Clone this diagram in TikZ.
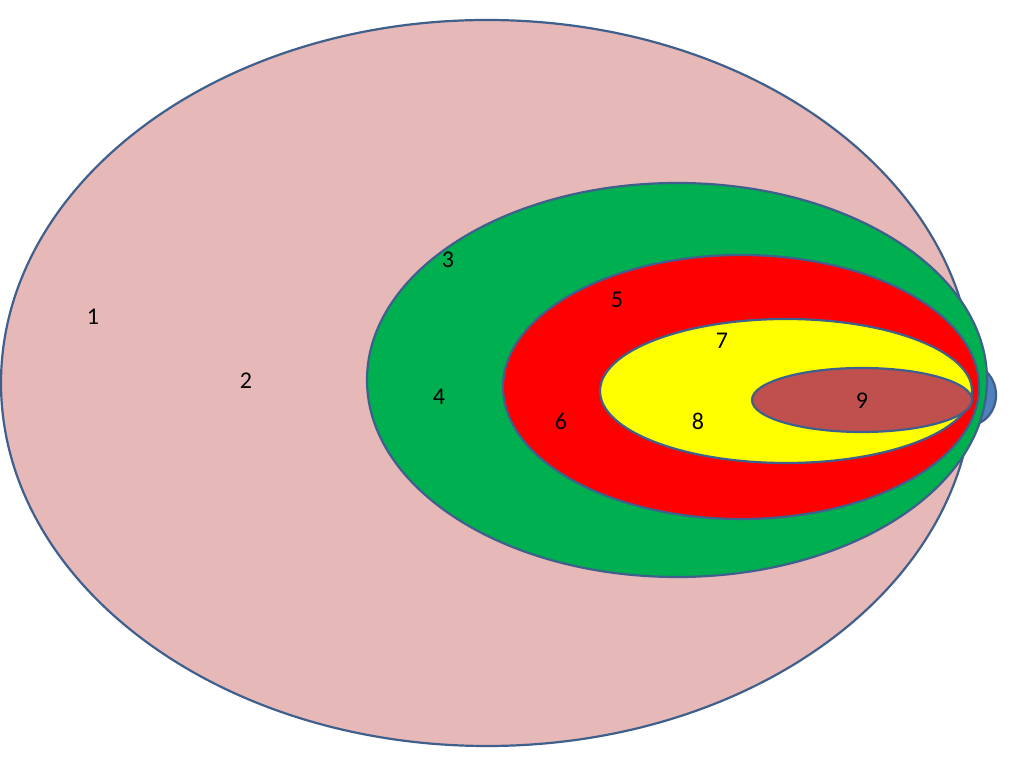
\documentclass[tikz,border=0pt]{standalone}
\usepackage{fontspec}
\setmainfont{Carlito}
\definecolor{edge}{HTML}{3F5F8C}
\definecolor{pinkf}{HTML}{E6B9B8}
\definecolor{greenf}{HTML}{00B050}
\definecolor{redf}{HTML}{FF0000}
\definecolor{yellowf}{HTML}{FFFF00}
\definecolor{brownf}{HTML}{C0504D}
\definecolor{bluef}{HTML}{4F81BD}
\begin{document}
\begin{tikzpicture}[x=1pt,y=1pt,
  ring/.style={draw=edge,line width=2.2pt},
  lbl/.style={font=\fontsize{24}{28}\selectfont,inner sep=0pt}]
\useasboundingbox (0,0) rectangle (1024,768);
\fill[white] (0,0) rectangle (1024,768);
\draw[ring,fill=pinkf] (487,385) ellipse [x radius=486,y radius=363];
\draw[ring,fill=bluef] (970,373) ellipse [x radius=26,y radius=30];
\draw[ring,fill=greenf] (677,388) ellipse [x radius=310,y radius=197];
\draw[ring,fill=redf] (741,381) ellipse [x radius=238,y radius=132];
\draw[ring,fill=yellowf] (786,377) ellipse [x radius=186,y radius=72];
\draw[ring,fill=brownf] (862,368) ellipse [x radius=110,y radius=32];
\node[lbl] (l1) at (93,451) {1};
\node[lbl] (l2) at (246,387) {2};
\node[lbl] (l3) at (448,508) {3};
\node[lbl] (l4) at (439,371) {4};
\node[lbl] (l5) at (617,468) {5};
\node[lbl] (l6) at (561,347) {6};
\node[lbl] (l7) at (722,427) {7};
\node[lbl] (l8) at (698,347) {8};
\node[lbl] (l9) at (862,367) {9};
\end{tikzpicture}
\end{document}
